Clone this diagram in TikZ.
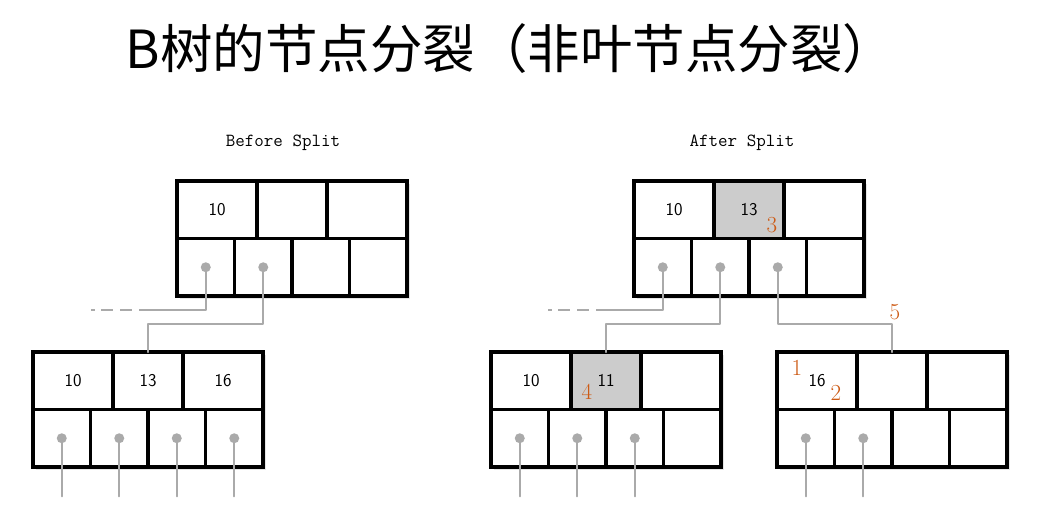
\documentclass[tikz,border=0pt]{standalone}
\usepackage{fontspec}
\newfontfamily\cjk{Noto Sans CJK SC}
\usetikzlibrary{positioning}
\definecolor{linkgray}{RGB}{170,170,170}
\definecolor{cellgray}{RGB}{204,204,204}
\definecolor{steporange}{RGB}{205,90,20}
\begin{document}
\begin{tikzpicture}[x=1pt, y=-1pt, line join=round, line cap=round,
  cell/.style={draw, line width=3.4pt, line join=miter, fill=white, minimum height=57.5pt, inner sep=0pt, outer sep=0pt},
  keycell/.style={cell, minimum width=#1},
  ptrcell/.style={cell, minimum width=57.5pt},
  keytext/.style={font=\sffamily\fontsize{18}{20}\selectfont},
  link/.style={draw=linkgray, line width=2.2pt},
  stub/.style={link, line cap=butt, dash pattern=on 110pt off 7pt on 12pt off 7pt on 12pt off 6pt on 4pt off 200pt},
  steplabel/.style={text=steporange, font=\fontsize{23}{25}\selectfont, inner sep=0pt},
  caption/.style={font=\ttfamily\fontsize{18.5}{20}\selectfont}]
\useasboundingbox (0,0) rectangle (1040,521);
\node[anchor=base west, font=\cjk\fontsize{52.5}{60}\selectfont] (title) at (122,69) {B树的节点分裂（非叶节点分裂）};
\node[caption] (before) at (283,143) {Before Split};
\node[caption] (after) at (742,143) {After Split};
% tree nodes: name / left / top / fill of middle key
\foreach \n/\x/\y/\hl in {A/177/181/white, B/33/352/white, C/634/181/cellgray, D/491/352/cellgray, E/777/352/white} {
  \fill[black!10] (\x+3,\y+3) rectangle (\x+233,\y+118);
  \node[keycell=80pt] (\n-k1) at (\x+40,\y+28.75) {};
  \node[keycell=70pt, fill=\hl, right=0pt of \n-k1] (\n-k2) {};
  \node[keycell=80pt, right=0pt of \n-k2] (\n-k3) {};
  \foreach \i in {1,...,4}
    \node[ptrcell] (\n-p\i) at (\x+28.75+57.5*\i-57.5,\y+86.25) {};
}
\foreach \c/\t in {A-k1/10, B-k1/10, B-k2/13, B-k3/16, C-k1/10, C-k2/13, D-k1/10, D-k2/11, E-k1/16}
  \node[keytext] at (\c) {\t};
% pointers
\coordinate (A-stub) at (90,310);
\coordinate (C-stub) at (548,310);
\draw[stub] (A-p1.center) |- (A-stub);
\draw[stub] (C-p1.center) |- (C-stub);
\draw[link] (A-p2.center) -- ++(0,57) -| (B-k2.north);
\draw[link] (C-p2.center) -- ++(0,57) -| (D-k2.north);
\draw[link] (C-p3.center) -- ++(0,57) -| (E-k2.north);
\foreach \p in {B-p1, B-p2, B-p3, B-p4, D-p1, D-p2, D-p3, E-p1, E-p2}
  \draw[link] (\p.center) -- ++(0,58);
\foreach \p in {A-p1, A-p2, B-p1, B-p2, B-p3, B-p4, C-p1, C-p2, C-p3, D-p1, D-p2, D-p3, E-p1, E-p2}
  \fill[linkgray] (\p.center) circle (5);
% split steps
\node[steplabel] (s1) at (797,368) {1};
\node[steplabel] (s2) at (836,393) {2};
\node[steplabel] (s3) at (772,225) {3};
\node[steplabel] (s4) at (587,392) {4};
\node[steplabel] (s5) at (895,312) {5};
\end{tikzpicture}
\end{document}
